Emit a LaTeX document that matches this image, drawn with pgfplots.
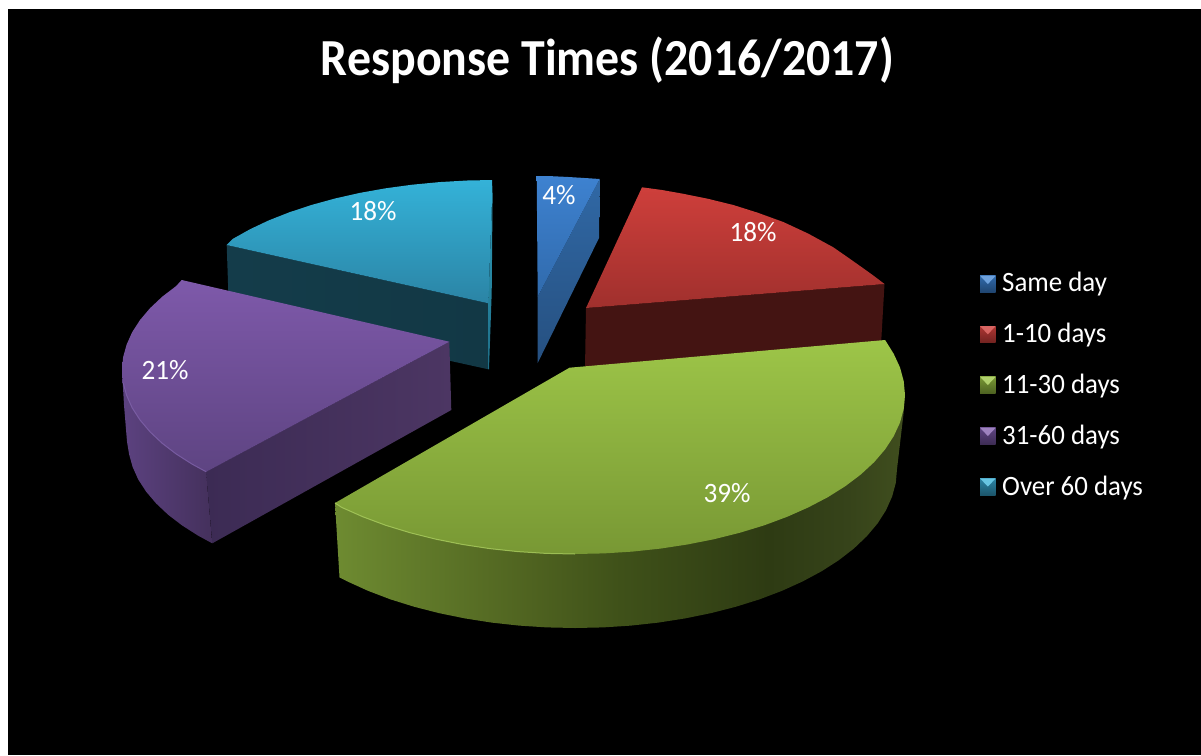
\documentclass[border=0pt]{standalone}
\usepackage{fontspec}
\setmainfont{Carlito}
\usepackage{pgfplots}
\pgfplotsset{compat=1.18}
\definecolor{rimA}{HTML}{6E8B31}
\definecolor{rimB}{HTML}{4F6320}
\definecolor{rimC}{HTML}{3F5119}
\definecolor{rimD}{HTML}{2E3B13}
\definecolor{rimE}{HTML}{36431A}
\definecolor{rimF}{HTML}{404E1E}
\pgfdeclarehorizontalshading{greenrim}{100bp}{
  color(0bp)=(rimA); color(25bp)=(rimA); color(42bp)=(rimB); color(50bp)=(rimC);
  color(63bp)=(rimD); color(70bp)=(rimE); color(75bp)=(rimF); color(100bp)=(rimF)}
\definecolor{cyanSideL}{HTML}{143C4A}
\definecolor{cyanSideR}{HTML}{123845}
\definecolor{cyanEdgeT}{HTML}{30A0BE}
\definecolor{cyanEdgeB}{HTML}{1E6E87}
\definecolor{cyanTopT}{HTML}{34B2D8}
\definecolor{cyanTopB}{HTML}{2B84A5}
\definecolor{purCutL}{HTML}{3C2B54}
\definecolor{purCutR}{HTML}{4C3663}
\definecolor{purRimL}{HTML}{5C4280}
\definecolor{purRimR}{HTML}{44305C}
\definecolor{purTopT}{HTML}{7E59AA}
\definecolor{purTopB}{HTML}{5E4482}
\definecolor{purEdge}{HTML}{7F62AA}
\definecolor{redSide}{HTML}{441412}
\definecolor{redTopT}{HTML}{CE3F3B}
\definecolor{redTopB}{HTML}{A0302D}
\definecolor{bluSideT}{HTML}{3068A5}
\definecolor{bluSideB}{HTML}{265080}
\definecolor{bluTopT}{HTML}{3E82D0}
\definecolor{bluTopB}{HTML}{306AAC}
\definecolor{grnTopT}{HTML}{9DC548}
\definecolor{grnTopB}{HTML}{789834}
\definecolor{grnEdge}{HTML}{AACD5F}
\tikzset{
  face/.style={draw=none, shade},
  lbl/.style={text=white,font=\fontsize{28}{30}\selectfont,xscale=0.97},
  leg/.style={text=white,anchor=west,inner sep=0pt,font=\fontsize{28}{30}\selectfont,xscale=0.96},
}
\newcommand{\legendkey}[5]{%
  % bevelled square: y top, y mid, y bottom, light top face, body colour
  \addplot[face,top color=#5,bottom color=#5!65!black] coordinates {(980,#1)(995.7,#1)(995.7,#3)(980,#3)} -- cycle;
  \addplot[fill=#4,draw=none] coordinates {(980,#1)(995.7,#1)(987.85,#2)} -- cycle;
}
\begin{document}
\begin{tikzpicture}
\begin{axis}[
  hide axis, scale only axis, width=1201pt, height=755pt,
  xmin=0, xmax=1201, ymin=0, ymax=755, y dir=reverse,
  no markers, clip=true,
]
% page and dark panel
\addplot[fill=white,draw=none] coordinates {(0,0)(1201,0)(1201,755)(0,755)} -- cycle;
\addplot[fill=black,draw=none] coordinates {(8,9)(1201,9)(1201,755)(8,755)} -- cycle;

% Over 60 days: 18%
\addplot[face, left color=cyanSideL, right color=cyanSideR]
  coordinates {(226.7,245)(488.3,303.3)(488.3,369.3)(229,312)} -- cycle;
\addplot[face, top color=cyanEdgeT, bottom color=cyanEdgeB]
  coordinates {(492.7,180)(491.7,293)(489,369.3)(488.3,369.3)(488.3,303.3)} -- cycle;
\addplot[face, top color=cyanTopT, bottom color=cyanTopB]
  coordinates {(492.7,180)(467.1,180.5)(439.4,182.1)(412.2,184.7)(385.6,188.3)(359.8,192.9)(335,198.5)(311.4,205)(289.3,212.3)(268.7,220.4)(249.9,229.3)(232.9,238.8)(226.7,245)(488.3,303.3)} -- cycle;

% 31-60 days: 21%
\addplot[face, left color=purCutL, right color=purCutR]
  coordinates {(206,471.7)(449.3,341.7)(451.3,410)(212.3,543.3)} -- cycle;
\addplot[face, left color=purRimL, right color=purRimR]
  coordinates {(206,471.7)(212.2,543.3)(198.2,535.7)(182.2,525.5)(168.2,514.8)(156.1,503.4)(146.1,491.6)(138.2,479.4)(132.6,466.9)(129.1,454.3)(127,441.5)(124,405)(122,370)} -- cycle;
\addplot[face, top color=purTopT, bottom color=purTopB]
  coordinates {(181.7,280)(449.3,341.7)(206.2,471.8)(192.2,464.2)(176.2,454)(162.2,443.3)(150.1,431.9)(140.1,420.1)(132.2,407.9)(126.6,395.4)(123.1,382.8)(122,370)(123.1,357.2)(126.6,344.6)(132.2,332.1)(140.1,319.9)(150.1,308.1)(162.2,296.7)(176.2,286)} -- cycle;
\addplot[draw=purEdge, line width=1pt, opacity=0.8]
  coordinates {(206.2,471.8)(192.2,464.2)(176.2,454)(162.2,443.3)(150.1,431.9)(140.1,420.1)(132.2,407.9)(126.6,395.4)(123.1,382.8)};

% 1-10 days: 18%
\addplot[draw=none, fill=redSide]
  coordinates {(586,308)(884.5,284)(881,345)(585,369)} -- cycle;
\addplot[face, top color=redTopT, bottom color=redTopB]
  coordinates {(642,187.3)(662,190)(683.3,193.8)(708,198.8)(733.3,205)(758,212.8)(783.3,222)(808,233.5)(833.3,247.3)(848,257.5)(863.3,268.3)(874,276)(884.5,284)(586,308)} -- cycle;

% Same day: 4%
\addplot[face, top color=bluSideT, bottom color=bluSideB]
  coordinates {(599.7,179)(599,238)(537.7,363)(537.7,296.7)} -- cycle;
\addplot[face, top color=bluTopT, bottom color=bluTopB]
  coordinates {(536.7,176)(552,176.2)(566.7,176.9)(583,177.9)(599.7,179)(537.7,296.7)} -- cycle;

% 11-30 days: 39%
\addplot[face, shading=greenrim]
  coordinates {(335,503)(339.5,577.4)(347.3,581.4)(368,590.8)(390.3,599.3)(414,606.7)(438.9,613.1)(464.9,618.4)(491.7,622.6)(519.1,625.6)(546.9,627.4)(575,628)(603.1,627.4)(630.9,625.6)(658.3,622.6)(685.1,618.4)(711.1,613.1)(736,606.7)(759.7,599.3)(782,590.8)(802.7,581.4)(821.7,571.2)(838.8,560.2)(853.9,548.5)(866.8,536.2)(877.6,523.4)(886,510.2)(892.1,496.6)(895.8,482.9)(897,469)(903.6,413)(905,393)} -- cycle;
\addplot[face, top color=grnTopT, bottom color=grnTopB]
  coordinates {(885.1,340)(569.5,367.7)(335,503)(341.7,507.4)(362.9,516.8)(385.7,525.3)(410,532.7)(435.5,539.1)(462.1,544.4)(489.6,548.6)(517.7,551.6)(546.2,553.4)(575,554)(603.8,553.4)(632.3,551.6)(660.4,548.6)(687.9,544.4)(714.5,539.1)(740,532.7)(764.3,525.3)(787.1,516.8)(808.3,507.4)(827.8,497.2)(845.3,486.2)(860.8,474.5)(874.1,462.2)(885.1,449.4)(893.7,436.2)(900,422.6)(903.7,408.9)(905,395)(903.7,381.1)(900,367.4)(893.7,353.8)} -- cycle;
\addplot[draw=grnEdge, line width=1pt, opacity=0.8]
  coordinates {(335,503)(341.7,507.4)(362.9,516.8)(385.7,525.3)(410,532.7)(435.5,539.1)(462.1,544.4)(489.6,548.6)(517.7,551.6)(546.2,553.4)(575,554)};

% Legend keys
\legendkey{275.7}{284}{292.3}{bluTopT!75!white}{bluTopB}
\legendkey{326}{334.3}{342.7}{redTopT!80!white}{redTopT!85!black}
\legendkey{376.7}{385}{393.3}{grnTopT!80!white}{grnTopB}
\legendkey{427.7}{436}{444.3}{purTopT!75!white}{purTopB}
\legendkey{478.3}{486.6}{495}{cyanTopT!75!white}{cyanTopB}

\node[text=white,font=\bfseries\fontsize{52}{56}\selectfont,xscale=0.92] at (axis cs:607.5,60) {Response Times (2016/2017)};
\node[lbl] at (axis cs:559,195) {4\%};
\node[lbl] at (axis cs:753,232) {18\%};
\node[lbl] at (axis cs:727,493) {39\%};
\node[lbl] at (axis cs:165,370) {21\%};
\node[lbl] at (axis cs:373,211) {18\%};
\node[leg] at (axis cs:1002,284) {Same day};
\node[leg] at (axis cs:1002,335) {1-10 days};
\node[leg] at (axis cs:1002,386) {11-30 days};
\node[leg] at (axis cs:1002,437) {31-60 days};
\node[leg] at (axis cs:1002,488) {Over 60 days};
\end{axis}
\end{tikzpicture}
\end{document}
